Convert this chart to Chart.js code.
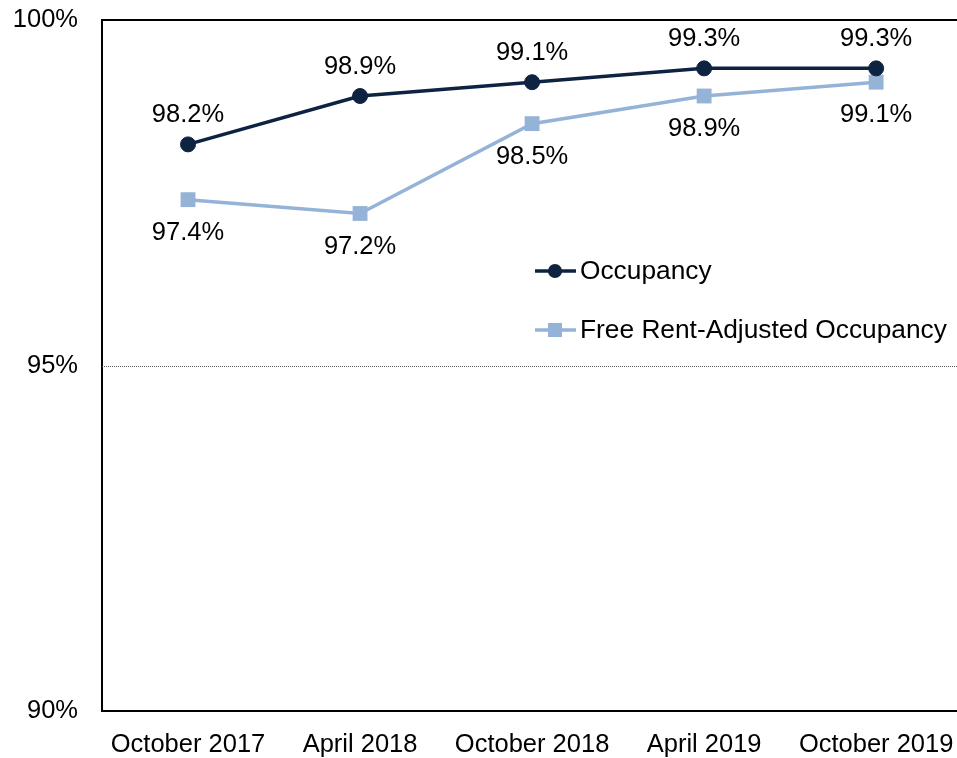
<!DOCTYPE html>
<html>
<head>
<meta charset="utf-8">
<script src="https://cdn.jsdelivr.net/npm/chart.js@4/dist/chart.umd.min.js"></script>
<style>
  html, body { margin:0; padding:0; background:#fff; }
  #wrap { width:957px; height:758px; }
</style>
</head>
<body>
<div id="wrap"><canvas id="c" width="957" height="758"></canvas></div>
<script>
const periods   = ['October 2017', 'April 2018', 'October 2018', 'April 2019', 'October 2019'];
const occupancy = [98.2, 98.9, 99.1, 99.3, 99.3];
const freeRent  = [97.4, 97.2, 98.5, 98.9, 99.1];
const yTicks    = [90, 95, 100];

const NAVY  = '#0E2341';
const LIGHT = '#95B3D7';
const font  = { family:'Liberation Sans, Arial, sans-serif', size:25.5 };
const legFont = { family:'Liberation Sans, Arial, sans-serif', size:26.3 };

const pts = arr => arr.map((v, i) => ({ x:i, y:v }));

/* -------- dotted 95% gridline -------- */
const gridPlugin = {
  id:'dotgrid',
  beforeDatasetsDraw(chart) {
    const { ctx, chartArea:a, scales:{ y } } = chart;
    const py = Math.round(y.getPixelForValue(95)) + 0.5;
    ctx.save();
    ctx.strokeStyle = '#555';
    ctx.lineWidth = 1;
    ctx.setLineDash([1, 1]);
    ctx.beginPath(); ctx.moveTo(a.left, py); ctx.lineTo(a.right, py); ctx.stroke();
    ctx.restore();
  }
};

/* -------- data labels + in-plot legend -------- */
const labelsPlugin = {
  id:'labels',
  afterDatasetsDraw(chart) {
    const ctx = chart.ctx;
    ctx.save();
    ctx.font = `${font.size}px ${font.family}`;
    ctx.fillStyle = '#000';
    ctx.textAlign = 'center';
    ctx.textBaseline = 'middle';
    chart.data.datasets.forEach((ds, di) => {
      const meta = chart.getDatasetMeta(di);
      meta.data.forEach((p, i) => {
        const dy = di === 0 ? -29 : 33;
        ctx.fillText(ds.data[i].y.toFixed(1) + '%', p.x, p.y + dy);
      });
    });

    // legend
    ctx.font = `${legFont.size}px ${legFont.family}`;
    const rows = [271, 330];
    chart.data.datasets.forEach((ds, di) => {
      const y = rows[di];
      ctx.strokeStyle = ds.borderColor;
      ctx.lineWidth = 3.5;
      ctx.beginPath(); ctx.moveTo(535, y); ctx.lineTo(576, y); ctx.stroke();
      ctx.fillStyle = ds.pointBackgroundColor;
      if (ds.pointStyle === 'rect') ctx.fillRect(548, y - 7, 14, 14);
      else { ctx.beginPath(); ctx.arc(555, y, 7, 0, Math.PI * 2); ctx.fill(); }
      ctx.fillStyle = '#000';
      ctx.textAlign = 'left';
      ctx.fillText(ds.label, 580, y + 1);
    });
    ctx.restore();
  }
};

new Chart(document.getElementById('c'), {
  type:'line',
  data:{ datasets:[
    { label:'Occupancy', data:pts(occupancy),
      borderColor:NAVY, borderWidth:3.5, pointStyle:'circle', pointRadius:7.5, pointBorderWidth:1,
      pointBackgroundColor:NAVY, pointBorderColor:NAVY, tension:0, clip:false },
    { label:'Free Rent-Adjusted Occupancy', data:pts(freeRent),
      borderColor:LIGHT, borderWidth:3.5, pointStyle:'rect', pointRadius:10.5, pointBorderWidth:0,
      pointBackgroundColor:LIGHT, pointBorderColor:LIGHT, tension:0, clip:false },
  ]},
  options:{
    responsive:false, animation:false,
    layout:{ autoPadding:false, padding:{ top:20, right:0, left:0, bottom:0 } },
    plugins:{ legend:{ display:false }, tooltip:{ enabled:false } },
    scales:{
      x:{ type:'linear', min:-0.5, max:4.47,
          afterBuildTicks: s => { s.ticks = periods.map((_, i) => ({ value:i })); },
          afterFit: s => { s.height = 47; s.paddingLeft = 0; s.paddingRight = 0; },
          ticks:{ font, color:'#000', padding:19, maxRotation:0, autoSkip:false,
                  callback: v => periods[v] },
          grid:{ display:false, drawTicks:false },
          border:{ color:'#000', width:2 } },
      y:{ min:90, max:100,
          afterBuildTicks: s => { s.ticks = yTicks.map(v => ({ value:v })); },
          afterFit: s => { s.width = 102; s.paddingTop = 0; s.paddingBottom = 0; },
          ticks:{ font, color:'#000', padding:24, callback: v => v + '%' },
          grid:{ drawTicks:false,
                 color: c => c.tick.value === 100 ? '#000' : 'rgba(0,0,0,0)',
                 lineWidth: c => c.tick.value === 100 ? 2 : 1 },
          border:{ color:'#000', width:2 } },
    },
  },
  plugins:[gridPlugin, labelsPlugin],
});
</script>
</body>
</html>
